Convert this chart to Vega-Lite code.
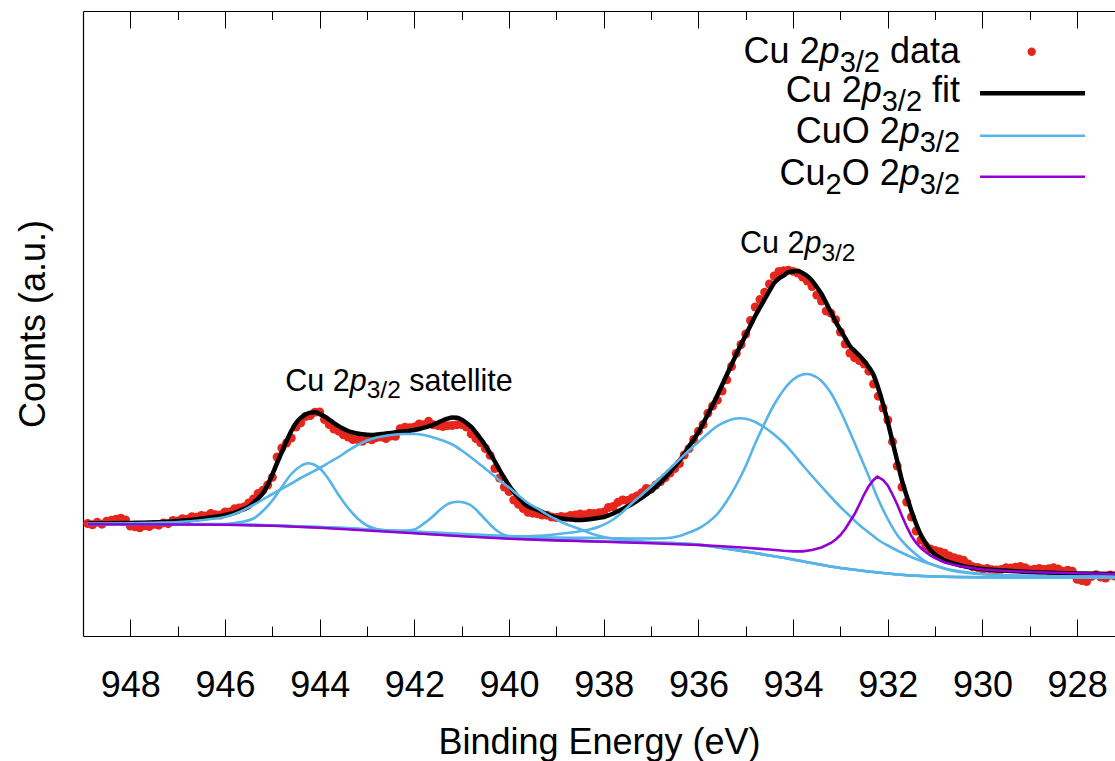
{
"$schema": "https://vega.github.io/schema/vega-lite/v6.json",
"width": 1032, "height": 625,
"autosize": {"type": "none"},
"padding": {"left": 83, "top": 11, "right": 0, "bottom": 125},
"background": "white",
"config": {"view": {"stroke": null}, "font": "Liberation Sans",
  "axis": {"grid": false, "domainColor": "black", "domainWidth": 1.2, "tickColor": "black", "tickWidth": 1, "labelColor": "black", "titleColor": "black", "titleFontWeight": "normal", "labelFont": "Liberation Sans", "titleFont": "Liberation Sans"}},
"resolve": {"axis": {"x": "independent"}},
"encoding": {
  "y": {"field": "c", "type": "quantitative", "scale": {"domain": [0, 625], "nice": false, "zero": false},
        "axis": {"orient": "left", "ticks": true, "tickSize": 0, "labels": false, "domain": true, "title": "Counts (a.u.)", "titleFontSize": 36, "titlePadding": 30}}
},
"datasets": {
"obs": [
{"e":948.9,"c":112.5},{"e":948.8,"c":111.2},{"e":948.7,"c":113.7},{"e":948.6,"c":111.8},{"e":948.5,"c":114.8},
{"e":948.4,"c":115.8},{"e":948.3,"c":116.9},{"e":948.2,"c":117.9},{"e":948.1,"c":116.0},{"e":948.0,"c":110.0},
{"e":947.9,"c":109.1},{"e":947.8,"c":108.2},{"e":947.7,"c":110.3},{"e":947.6,"c":109.4},{"e":947.5,"c":111.6},
{"e":947.4,"c":110.8},{"e":947.3,"c":113.1},{"e":947.2,"c":112.3},{"e":947.1,"c":115.6},{"e":947.0,"c":115.0},
{"e":946.9,"c":117.3},{"e":946.8,"c":116.8},{"e":946.7,"c":119.3},{"e":946.6,"c":118.8},{"e":946.5,"c":120.5},
{"e":946.4,"c":120.1},{"e":946.3,"c":122.6},{"e":946.2,"c":121.2},{"e":946.1,"c":121.0},{"e":946.0,"c":124.0},
{"e":945.9,"c":124.0},{"e":945.8,"c":127.2},{"e":945.7,"c":128.0},{"e":945.6,"c":129.0},{"e":945.5,"c":133.0},
{"e":945.4,"c":137.0},{"e":945.3,"c":142.5},{"e":945.2,"c":145.7},{"e":945.1,"c":151.0},{"e":945.0,"c":158.7},
{"e":944.9,"c":179.0},{"e":944.8,"c":188.0},{"e":944.7,"c":193.0},{"e":944.6,"c":198.0},{"e":944.5,"c":209.0},
{"e":944.4,"c":213.2},{"e":944.3,"c":219.5},{"e":944.2,"c":220.4},{"e":944.1,"c":223.8},{"e":944.0,"c":224.0},
{"e":943.9,"c":216.5},{"e":943.8,"c":211.4},{"e":943.7,"c":207.0},{"e":943.6,"c":204.8},{"e":943.5,"c":201.2},
{"e":943.4,"c":199.0},{"e":943.3,"c":196.5},{"e":943.2,"c":196.5},{"e":943.1,"c":194.7},{"e":943.0,"c":197.2},
{"e":942.9,"c":196.1},{"e":942.8,"c":198.4},{"e":942.7,"c":198.9},{"e":942.6,"c":197.4},{"e":942.5,"c":200.0},
{"e":942.4,"c":199.7},{"e":942.3,"c":207.3},{"e":942.2,"c":208.8},{"e":942.1,"c":208.3},{"e":942.0,"c":209.0},
{"e":941.9,"c":212.0},{"e":941.8,"c":211.3},{"e":941.7,"c":214.7},{"e":941.6,"c":211.2},{"e":941.5,"c":210.5},
{"e":941.4,"c":209.5},{"e":941.3,"c":210.3},{"e":941.2,"c":210.5},{"e":941.1,"c":211.3},{"e":941.0,"c":211.3},
{"e":940.9,"c":209.0},{"e":940.8,"c":202.1},{"e":940.7,"c":197.5},{"e":940.6,"c":193.2},{"e":940.5,"c":187.5},
{"e":940.4,"c":180.6},{"e":940.3,"c":167.5},{"e":940.2,"c":158.0},{"e":940.1,"c":149.0},{"e":940.0,"c":144.5},
{"e":939.9,"c":136.0},{"e":939.8,"c":131.6},{"e":939.7,"c":127.5},{"e":939.6,"c":123.6},{"e":939.5,"c":122.8},
{"e":939.4,"c":122.2},{"e":939.3,"c":121.0},{"e":939.2,"c":120.8},{"e":939.1,"c":119.0},{"e":939.0,"c":118.5},
{"e":938.9,"c":119.6},{"e":938.8,"c":119.0},{"e":938.7,"c":120.5},{"e":938.6,"c":121.1},{"e":938.5,"c":122.0},
{"e":938.4,"c":121.3},{"e":938.3,"c":122.8},{"e":938.2,"c":122.5},{"e":938.1,"c":123.2},{"e":938.0,"c":124.0},
{"e":937.9,"c":128.5},{"e":937.8,"c":129.5},{"e":937.7,"c":133.7},{"e":937.6,"c":136.0},{"e":937.5,"c":135.5},
{"e":937.4,"c":138.0},{"e":937.3,"c":140.0},{"e":937.2,"c":143.2},{"e":937.1,"c":147.5},{"e":937.0,"c":147.0},
{"e":936.9,"c":151.0},{"e":936.8,"c":154.5},{"e":936.7,"c":158.5},{"e":936.6,"c":163.0},{"e":936.5,"c":167.5},
{"e":936.4,"c":172.5},{"e":936.3,"c":181.0},{"e":936.2,"c":187.4},{"e":936.1,"c":196.5},{"e":936.0,"c":204.8},
{"e":935.9,"c":211.5},{"e":935.8,"c":222.8},{"e":935.7,"c":230.0},{"e":935.6,"c":235.8},{"e":935.5,"c":245.0},
{"e":935.4,"c":256.2},{"e":935.3,"c":269.5},{"e":935.2,"c":282.6},{"e":935.1,"c":291.5},{"e":935.0,"c":302.0},
{"e":934.9,"c":315.5},{"e":934.8,"c":329.0},{"e":934.7,"c":336.5},{"e":934.6,"c":343.8},{"e":934.5,"c":352.0},
{"e":934.4,"c":360.0},{"e":934.3,"c":364.5},{"e":934.2,"c":365.4},{"e":934.1,"c":365.8},{"e":934.0,"c":364.6},
{"e":933.9,"c":363.0},{"e":933.8,"c":359.0},{"e":933.7,"c":355.0},{"e":933.6,"c":349.4},{"e":933.5,"c":341.0},
{"e":933.4,"c":335.0},{"e":933.3,"c":325.0},{"e":933.2,"c":322.8},{"e":933.1,"c":316.3},{"e":933.0,"c":304.0},
{"e":932.9,"c":292.0},{"e":932.8,"c":283.0},{"e":932.7,"c":278.2},{"e":932.6,"c":275.5},{"e":932.5,"c":272.0},
{"e":932.4,"c":264.8},{"e":932.3,"c":252.0},{"e":932.2,"c":239.8},{"e":932.1,"c":228.0},{"e":932.0,"c":216.0},
{"e":931.9,"c":194.3},{"e":931.8,"c":170.0},{"e":931.7,"c":149.0},{"e":931.6,"c":134.0},{"e":931.5,"c":119.0},
{"e":931.4,"c":105.0},{"e":931.3,"c":96.0},{"e":931.2,"c":90.0},{"e":931.1,"c":87.0},{"e":931.0,"c":85.5},
{"e":930.9,"c":84.3},{"e":930.8,"c":82.8},{"e":930.7,"c":80.0},{"e":930.6,"c":78.3},{"e":930.5,"c":77.0},
{"e":930.4,"c":75.9},{"e":930.3,"c":72.0},{"e":930.2,"c":69.2},{"e":930.1,"c":68.5},{"e":930.0,"c":67.0},
{"e":929.9,"c":67.6},{"e":929.8,"c":66.2},{"e":929.7,"c":66.0},{"e":929.6,"c":66.6},{"e":929.5,"c":68.3},
{"e":929.4,"c":68.0},{"e":929.3,"c":68.8},{"e":929.2,"c":69.5},{"e":929.1,"c":68.3},{"e":929.0,"c":66.0},
{"e":928.9,"c":66.8},{"e":928.8,"c":67.6},{"e":928.7,"c":66.5},{"e":928.6,"c":67.3},{"e":928.5,"c":68.2},
{"e":928.4,"c":67.0},{"e":928.3,"c":64.8},{"e":928.2,"c":65.8},{"e":928.1,"c":64.7},{"e":928.0,"c":56.6},
{"e":927.9,"c":55.4},{"e":927.8,"c":54.4},{"e":927.7,"c":59.4},{"e":927.6,"c":61.2},{"e":927.5,"c":59.0},
{"e":927.4,"c":58.0},{"e":927.3,"c":61.0},{"e":927.2,"c":60.0}
],
"fit": [
{"e":948.9,"c":112.7},{"e":948.5,"c":112.8},{"e":948.0,"c":113.0},{"e":947.8,"c":113.2},{"e":947.6,"c":113.4},{"e":947.4,"c":113.8},{"e":947.2,"c":114.3},{"e":947.0,"c":115.0},{"e":946.8,"c":115.8},{"e":946.6,"c":116.8},{"e":946.4,"c":118.1},{"e":946.2,"c":119.2},{"e":946.1,"c":120.0},{"e":946.0,"c":121.0},{"e":945.9,"c":122.0},{"e":945.8,"c":123.2},{"e":945.7,"c":125.0},{"e":945.6,"c":127.0},{"e":945.5,"c":129.0},{"e":945.4,"c":133.0},{"e":945.3,"c":137.5},{"e":945.2,"c":142.7},{"e":945.1,"c":151.0},{"e":945.0,"c":161.7},
{"e":944.9,"c":173.0},{"e":944.8,"c":184.0},{"e":944.7,"c":195.0},{"e":944.6,"c":205.0},{"e":944.5,"c":213.0},{"e":944.4,"c":218.2},{"e":944.3,"c":221.5},{"e":944.2,"c":223.4},{"e":944.1,"c":223.8},{"e":944.0,"c":222.1},
{"e":943.9,"c":219.5},{"e":943.8,"c":216.4},{"e":943.7,"c":213.0},{"e":943.6,"c":209.8},{"e":943.5,"c":207.2},{"e":943.4,"c":205.0},{"e":943.3,"c":203.5},{"e":943.2,"c":202.5},{"e":943.1,"c":201.7},{"e":943.0,"c":201.2},
{"e":942.9,"c":201.1},{"e":942.8,"c":201.4},{"e":942.7,"c":201.9},{"e":942.6,"c":202.4},{"e":942.5,"c":203.0},{"e":942.4,"c":203.7},{"e":942.3,"c":204.3},{"e":942.2,"c":204.8},{"e":942.1,"c":205.3},{"e":942.0,"c":206.0},
{"e":941.9,"c":207.0},{"e":941.8,"c":208.3},{"e":941.7,"c":209.7},{"e":941.6,"c":211.2},{"e":941.5,"c":213.5},{"e":941.4,"c":215.5},{"e":941.3,"c":217.3},{"e":941.2,"c":218.5},{"e":941.1,"c":218.3},{"e":941.0,"c":216.3},
{"e":940.9,"c":213.0},{"e":940.8,"c":209.1},{"e":940.7,"c":203.5},{"e":940.6,"c":197.2},{"e":940.5,"c":190.5},{"e":940.4,"c":182.6},{"e":940.3,"c":174.5},{"e":940.2,"c":166.0},{"e":940.1,"c":158.0},{"e":940.0,"c":150.5},
{"e":939.9,"c":144.0},{"e":939.8,"c":138.6},{"e":939.7,"c":133.5},{"e":939.6,"c":129.6},{"e":939.5,"c":127.8},{"e":939.4,"c":126.2},{"e":939.3,"c":124.0},{"e":939.2,"c":121.8},{"e":939.1,"c":120.0},{"e":939.0,"c":118.5},
{"e":938.9,"c":117.6},{"e":938.8,"c":117.0},{"e":938.7,"c":116.5},{"e":938.6,"c":116.1},{"e":938.5,"c":116.0},{"e":938.4,"c":116.3},{"e":938.3,"c":116.8},{"e":938.2,"c":117.5},{"e":938.1,"c":118.2},{"e":938.0,"c":119.0},
{"e":937.9,"c":120.5},{"e":937.8,"c":122.5},{"e":937.7,"c":124.7},{"e":937.6,"c":127.0},{"e":937.5,"c":129.5},{"e":937.4,"c":132.0},{"e":937.3,"c":135.0},{"e":937.2,"c":138.2},{"e":937.1,"c":141.5},{"e":937.0,"c":145.0},
{"e":936.9,"c":149.0},{"e":936.8,"c":153.5},{"e":936.7,"c":158.5},{"e":936.6,"c":164.0},{"e":936.5,"c":169.5},{"e":936.4,"c":175.5},{"e":936.3,"c":182.0},{"e":936.2,"c":189.4},{"e":936.1,"c":196.5},{"e":936.0,"c":203.8},
{"e":935.9,"c":212.5},{"e":935.8,"c":221.8},{"e":935.7,"c":231.0},{"e":935.6,"c":240.8},{"e":935.5,"c":251.0},{"e":935.4,"c":261.2},{"e":935.3,"c":271.5},{"e":935.2,"c":281.6},{"e":935.1,"c":291.5},{"e":935.0,"c":301.0},
{"e":934.9,"c":310.5},{"e":934.8,"c":320.0},{"e":934.7,"c":328.5},{"e":934.6,"c":336.8},{"e":934.5,"c":345.0},{"e":934.4,"c":353.0},{"e":934.3,"c":357.5},{"e":934.2,"c":360.4},{"e":934.1,"c":363.8},{"e":934.0,"c":364.6},
{"e":933.9,"c":365.0},{"e":933.8,"c":363.0},{"e":933.7,"c":360.0},{"e":933.6,"c":355.4},{"e":933.5,"c":349.0},{"e":933.4,"c":342.0},{"e":933.3,"c":333.0},{"e":933.2,"c":323.8},{"e":933.1,"c":314.3},{"e":933.0,"c":306.0},
{"e":932.9,"c":298.0},{"e":932.8,"c":290.0},{"e":932.7,"c":285.2},{"e":932.6,"c":280.5},{"e":932.5,"c":275.0},{"e":932.4,"c":268.8},{"e":932.3,"c":261.0},{"e":932.2,"c":247.8},{"e":932.1,"c":232.0},{"e":932.0,"c":214.0},
{"e":931.9,"c":194.3},{"e":931.8,"c":175.0},{"e":931.7,"c":155.5},{"e":931.6,"c":140.0},{"e":931.5,"c":125.0},{"e":931.4,"c":112.0},{"e":931.3,"c":101.0},{"e":931.2,"c":93.0},{"e":931.1,"c":86.0},{"e":931.0,"c":81.5},
{"e":930.9,"c":78.3},{"e":930.8,"c":75.8},{"e":930.7,"c":74.0},{"e":930.6,"c":72.3},{"e":930.5,"c":71.0},{"e":930.4,"c":69.9},{"e":930.3,"c":69.0},{"e":930.2,"c":68.2},{"e":930.1,"c":67.5},{"e":930.0,"c":67.0},
{"e":929.8,"c":66.2},{"e":929.6,"c":65.6},{"e":929.4,"c":65.0},{"e":929.2,"c":64.5},{"e":929.0,"c":64.0},{"e":928.8,"c":63.6},{"e":928.6,"c":63.3},{"e":928.4,"c":63.0},{"e":928.2,"c":62.8},{"e":928.0,"c":62.6},{"e":927.6,"c":62.2},{"e":927.2,"c":62.0}
],
"cuo": [
{"k":"A","e":948.9,"c":112},{"k":"A","e":947.0,"c":111.8},{"k":"A","e":946.0,"c":112},{"k":"A","e":945.8,"c":113},{"k":"A","e":945.6,"c":114.5},{"k":"A","e":945.4,"c":117.5},{"k":"A","e":945.2,"c":125},{"k":"A","e":945.0,"c":135.5},{"k":"A","e":944.8,"c":149},{"k":"A","e":944.6,"c":162},{"k":"A","e":944.4,"c":170},{"k":"A","e":944.25,"c":172.7},{"k":"A","e":944.1,"c":171},{"k":"A","e":944.0,"c":167.7},{"k":"A","e":943.8,"c":156},{"k":"A","e":943.6,"c":141},{"k":"A","e":943.4,"c":128},{"k":"A","e":943.2,"c":117.5},{"k":"A","e":943.0,"c":110.5},{"k":"A","e":942.8,"c":107},{"k":"A","e":942.6,"c":105.5},{"k":"A","e":942.3,"c":104.3},{"k":"A","e":942.0,"c":103},{"k":"A","e":941.0,"c":100.3},{"k":"A","e":940.0,"c":97.8},{"k":"A","e":939.0,"c":96},{"k":"A","e":938.0,"c":94.5},{"k":"A","e":937.0,"c":93.5},{"k":"A","e":936.0,"c":91.5},{"k":"A","e":935.5,"c":88},{"k":"A","e":935.0,"c":84.5},{"k":"A","e":934.5,"c":80.5},{"k":"A","e":934.0,"c":76.5},{"k":"A","e":933.5,"c":72},{"k":"A","e":933.0,"c":68},{"k":"A","e":932.5,"c":65},{"k":"A","e":932.0,"c":62.5},{"k":"A","e":931.5,"c":60.5},{"k":"A","e":931.0,"c":59.5},{"k":"A","e":930.0,"c":58.8},{"k":"A","e":928.0,"c":58.5},{"k":"A","e":927.2,"c":58.5},
{"k":"B","e":948.9,"c":112.2},{"k":"B","e":948.0,"c":112.6},{"k":"B","e":947.5,"c":113.2},{"k":"B","e":947.0,"c":114},{"k":"B","e":946.5,"c":115.8},{"k":"B","e":946.2,"c":117.5},{"k":"B","e":946.0,"c":119},{"k":"B","e":945.8,"c":122},{"k":"B","e":945.6,"c":126},{"k":"B","e":945.4,"c":131},{"k":"B","e":945.2,"c":136.5},{"k":"B","e":945.0,"c":142},{"k":"B","e":944.8,"c":147.2},{"k":"B","e":944.6,"c":152.5},{"k":"B","e":944.4,"c":158},{"k":"B","e":944.2,"c":163},{"k":"B","e":944.0,"c":168},{"k":"B","e":943.8,"c":173.5},{"k":"B","e":943.6,"c":179},{"k":"B","e":943.4,"c":185.3},{"k":"B","e":943.2,"c":191},{"k":"B","e":943.0,"c":195.5},{"k":"B","e":942.8,"c":198.5},{"k":"B","e":942.6,"c":200.3},{"k":"B","e":942.4,"c":201.5},{"k":"B","e":942.2,"c":202},{"k":"B","e":942.0,"c":202},{"k":"B","e":941.8,"c":201},{"k":"B","e":941.6,"c":198.5},{"k":"B","e":941.4,"c":195.5},{"k":"B","e":941.2,"c":191.5},{"k":"B","e":941.0,"c":185.5},{"k":"B","e":940.8,"c":178.5},{"k":"B","e":940.6,"c":171},{"k":"B","e":940.4,"c":163.5},{"k":"B","e":940.2,"c":155.5},{"k":"B","e":940.0,"c":148.5},{"k":"B","e":939.8,"c":140.5},{"k":"B","e":939.6,"c":133},{"k":"B","e":939.4,"c":127.5},{"k":"B","e":939.2,"c":121.5},{"k":"B","e":939.0,"c":116.5},{"k":"B","e":938.8,"c":112},{"k":"B","e":938.6,"c":108.5},{"k":"B","e":938.4,"c":105},{"k":"B","e":938.2,"c":101.5},{"k":"B","e":938.0,"c":99},{"k":"B","e":937.5,"c":96},{"k":"B","e":937.0,"c":94},{"k":"B","e":936.5,"c":92.5},{"k":"B","e":936.0,"c":91},{"k":"B","e":935.5,"c":88},{"k":"B","e":935.0,"c":84.5},{"k":"B","e":934.5,"c":80.5},{"k":"B","e":934.0,"c":76.5},{"k":"B","e":933.5,"c":72},{"k":"B","e":933.0,"c":68},{"k":"B","e":932.5,"c":65},{"k":"B","e":932.0,"c":62.5},{"k":"B","e":931.5,"c":60.5},{"k":"B","e":931.0,"c":59.5},{"k":"B","e":930.0,"c":58.8},{"k":"B","e":928.0,"c":58.5},{"k":"B","e":927.2,"c":58.5},
{"k":"C","e":948.9,"c":112},{"k":"C","e":946.0,"c":111.8},{"k":"C","e":945.0,"c":110.5},{"k":"C","e":944.0,"c":108.5},{"k":"C","e":943.0,"c":106.5},{"k":"C","e":942.5,"c":105.3},{"k":"C","e":942.2,"c":105.5},{"k":"C","e":942.0,"c":106.5},{"k":"C","e":941.9,"c":109},{"k":"C","e":941.8,"c":112.5},{"k":"C","e":941.7,"c":116},{"k":"C","e":941.6,"c":120},{"k":"C","e":941.5,"c":124.5},{"k":"C","e":941.4,"c":128.5},{"k":"C","e":941.3,"c":131.8},{"k":"C","e":941.2,"c":133.5},{"k":"C","e":941.08,"c":134.3},{"k":"C","e":940.95,"c":133.5},{"k":"C","e":940.8,"c":130.5},{"k":"C","e":940.7,"c":126.5},{"k":"C","e":940.6,"c":121.5},{"k":"C","e":940.5,"c":116.5},{"k":"C","e":940.4,"c":111.5},{"k":"C","e":940.3,"c":107},{"k":"C","e":940.2,"c":103.5},{"k":"C","e":940.1,"c":101},{"k":"C","e":940.0,"c":99.5},{"k":"C","e":939.8,"c":97.5},{"k":"C","e":939.5,"c":96.5},{"k":"C","e":939.0,"c":95.8},{"k":"C","e":938.0,"c":94.5},{"k":"C","e":937.0,"c":93.5},{"k":"C","e":936.0,"c":91.5},{"k":"C","e":935.5,"c":88},{"k":"C","e":935.0,"c":84.5},{"k":"C","e":934.5,"c":80.5},{"k":"C","e":934.0,"c":76.5},{"k":"C","e":933.5,"c":72},{"k":"C","e":933.0,"c":68},{"k":"C","e":932.5,"c":65},{"k":"C","e":932.0,"c":62.5},{"k":"C","e":931.5,"c":60.5},{"k":"C","e":931.0,"c":59.5},{"k":"C","e":930.0,"c":58.8},{"k":"C","e":928.0,"c":58.5},{"k":"C","e":927.2,"c":58.5},
{"k":"D","e":948.9,"c":112},{"k":"D","e":946.0,"c":111.5},{"k":"D","e":944.0,"c":109},{"k":"D","e":942.0,"c":104},{"k":"D","e":941.0,"c":101},{"k":"D","e":940.0,"c":99.5},{"k":"D","e":939.5,"c":100},{"k":"D","e":939.0,"c":101.8},{"k":"D","e":938.6,"c":104},{"k":"D","e":938.3,"c":106.5},{"k":"D","e":938.1,"c":109.3},{"k":"D","e":937.8,"c":116.5},{"k":"D","e":937.6,"c":124},{"k":"D","e":937.4,"c":133},{"k":"D","e":937.2,"c":141},{"k":"D","e":937.0,"c":149.5},{"k":"D","e":936.8,"c":158.5},{"k":"D","e":936.6,"c":167.5},{"k":"D","e":936.4,"c":176.5},{"k":"D","e":936.2,"c":185.5},{"k":"D","e":936.0,"c":194},{"k":"D","e":935.8,"c":202.5},{"k":"D","e":935.6,"c":210},{"k":"D","e":935.4,"c":214.8},{"k":"D","e":935.2,"c":217.5},{"k":"D","e":935.1,"c":217.7},{"k":"D","e":935.0,"c":217.3},{"k":"D","e":934.8,"c":214},{"k":"D","e":934.6,"c":208.5},{"k":"D","e":934.4,"c":201.5},{"k":"D","e":934.2,"c":193},{"k":"D","e":934.0,"c":182.5},{"k":"D","e":933.8,"c":171},{"k":"D","e":933.6,"c":160},{"k":"D","e":933.4,"c":149.5},{"k":"D","e":933.2,"c":139},{"k":"D","e":933.0,"c":129},{"k":"D","e":932.8,"c":120},{"k":"D","e":932.6,"c":111},{"k":"D","e":932.4,"c":103.5},{"k":"D","e":932.2,"c":96},{"k":"D","e":932.0,"c":90.5},{"k":"D","e":931.8,"c":85.5},{"k":"D","e":931.6,"c":81},{"k":"D","e":931.4,"c":77},{"k":"D","e":931.2,"c":73.5},{"k":"D","e":931.0,"c":70.5},{"k":"D","e":930.7,"c":66.5},{"k":"D","e":930.3,"c":63.5},{"k":"D","e":930.0,"c":62},{"k":"D","e":929.6,"c":61},{"k":"D","e":929.0,"c":60.2},{"k":"D","e":928.0,"c":59.5},{"k":"D","e":927.2,"c":59.3},
{"k":"E","e":948.9,"c":112},{"k":"E","e":946.0,"c":111.5},{"k":"E","e":944.0,"c":109},{"k":"E","e":942.0,"c":104.5},{"k":"E","e":940.0,"c":100},{"k":"E","e":939.0,"c":98.5},{"k":"E","e":938.0,"c":98},{"k":"E","e":937.0,"c":97.5},{"k":"E","e":936.7,"c":97.8},{"k":"E","e":936.4,"c":100},{"k":"E","e":936.2,"c":103.5},{"k":"E","e":936.0,"c":107.5},{"k":"E","e":935.8,"c":113.5},{"k":"E","e":935.6,"c":122},{"k":"E","e":935.4,"c":135},{"k":"E","e":935.2,"c":151},{"k":"E","e":935.0,"c":170},{"k":"E","e":934.8,"c":192.5},{"k":"E","e":934.6,"c":213},{"k":"E","e":934.4,"c":231.5},{"k":"E","e":934.2,"c":246},{"k":"E","e":934.0,"c":256.5},{"k":"E","e":933.8,"c":261.5},{"k":"E","e":933.7,"c":262},{"k":"E","e":933.6,"c":261},{"k":"E","e":933.4,"c":255},{"k":"E","e":933.2,"c":243},{"k":"E","e":933.0,"c":225},{"k":"E","e":932.8,"c":204},{"k":"E","e":932.6,"c":182},{"k":"E","e":932.4,"c":159.5},{"k":"E","e":932.2,"c":136.5},{"k":"E","e":932.0,"c":117},{"k":"E","e":931.8,"c":101},{"k":"E","e":931.6,"c":90},{"k":"E","e":931.4,"c":81.5},{"k":"E","e":931.2,"c":74.5},{"k":"E","e":931.0,"c":70.5},{"k":"E","e":930.7,"c":66},{"k":"E","e":930.3,"c":63},{"k":"E","e":930.0,"c":61.7},{"k":"E","e":929.0,"c":60},{"k":"E","e":928.0,"c":59.5},{"k":"E","e":927.2,"c":59.3}
],
"cu2o": [
{"e":948.9,"c":111.7},{"e":947.0,"c":111.5},{"e":946.0,"c":111.2},{"e":945.0,"c":110.2},{"e":944.0,"c":108.3},{"e":943.0,"c":105.5},{"e":942.0,"c":102.7},{"e":941.0,"c":99.8},{"e":940.0,"c":97.3},{"e":939.0,"c":95.6},{"e":938.0,"c":94.2},{"e":937.0,"c":92.8},{"e":936.0,"c":91},{"e":935.5,"c":89.8},{"e":935.0,"c":88.2},{"e":934.5,"c":86.5},{"e":934.2,"c":85.2},{"e":934.0,"c":84.6},{"e":933.8,"c":84.6},{"e":933.6,"c":86},{"e":933.4,"c":88.5},{"e":933.2,"c":93},{"e":933.1,"c":96.5},{"e":933.0,"c":101},{"e":932.9,"c":107},{"e":932.8,"c":114.5},{"e":932.7,"c":122},{"e":932.6,"c":131.5},{"e":932.5,"c":141.5},{"e":932.4,"c":150},{"e":932.3,"c":156},{"e":932.22,"c":159.3},{"e":932.1,"c":156},{"e":932.0,"c":150.5},{"e":931.9,"c":141.5},{"e":931.8,"c":131.5},{"e":931.7,"c":120},{"e":931.6,"c":109.3},{"e":931.5,"c":100},{"e":931.4,"c":93},{"e":931.3,"c":88},{"e":931.2,"c":84},{"e":931.1,"c":80.5},{"e":931.0,"c":78},{"e":930.8,"c":73.5},{"e":930.5,"c":70},{"e":930.0,"c":66.5},{"e":929.5,"c":65},{"e":929.0,"c":64},{"e":928.5,"c":63.2},{"e":928.0,"c":62.7},{"e":927.2,"c":62}
],
"legdot": [{"e":928.96,"c":584.3}],
"leglines": [
{"s":"fit","e":930.052,"c":542.7},{"s":"fit","e":927.834,"c":542.7},
{"s":"cuo","e":930.052,"c":500.3},{"s":"cuo","e":927.834,"c":500.3},
{"s":"cu2o","e":930.052,"c":459.3},{"s":"cu2o","e":927.834,"c":459.3}
],
"legnorm": [
{"e":935.045,"c":572.7,"t":"Cu 2"},{"e":931.955,"c":572.7,"t":"data"},
{"e":934.156,"c":534.3,"t":"Cu 2"},{"e":931.066,"c":534.3,"t":"fit"},
{"e":933.945,"c":492.7,"t":"CuO 2"},
{"e":934.285,"c":451,"t":"Cu"},{"e":932.973,"c":451,"t":"O 2"}
],
"legital": [
{"e":933.44,"c":572.7,"t":"p"},{"e":932.551,"c":534.3,"t":"p"},{"e":931.748,"c":492.7,"t":"p"},{"e":931.748,"c":451,"t":"p"}
],
"legsub": [
{"e":933.017,"c":563.7,"t":"3/2"},{"e":932.128,"c":525.3,"t":"3/2"},{"e":931.325,"c":483.7,"t":"3/2"},{"e":933.313,"c":442,"t":"2"},{"e":931.325,"c":442,"t":"3/2"}
],
"annnorm": [
{"e":944.727,"c":245.3,"t":"Cu 2"},{"e":942.107,"c":245.3,"t":"satellite"},
{"e":935.121,"c":382.7,"t":"Cu 2"}
],
"annital": [
{"e":943.366,"c":245.3,"t":"p"},{"e":933.761,"c":382.7,"t":"p"}
],
"annsub": [
{"e":943.007,"c":237.8,"t":"3/2"},{"e":933.402,"c":375.2,"t":"3/2"}
]
},
"layer": [
{
 "data": {"name": "obs"},
 "mark": {"type": "point", "filled": true, "size": 80, "opacity": 1, "color": "#e6261c"},
 "encoding": {
  "x": {"field": "e", "type": "quantitative", "scale": {"domain": [949, 927.2], "nice": false, "zero": false},
        "axis": {"orient": "bottom", "values": [948,946,944,942,940,938,936,934,932,930,928], "ticks": false, "labels": true, "labelFontSize": 36, "labelPadding": 32, "labelFlush": false, "labelOverlap": false, "domain": true, "title": "Binding Energy (eV)", "titleFontSize": 36, "titlePadding": 22}}
 }
},
{
 "data": {"name": "fit"},
 "mark": {"type": "line", "color": "black", "strokeWidth": 4.5, "interpolate": "monotone"},
 "encoding": {
  "x": {"field": "e", "type": "quantitative", "scale": {"domain": [949, 927.2], "nice": false, "zero": false},
        "axis": {"orient": "bottom", "values": [948,946,944,942,940,938,936,934,932,930,928], "labels": false, "ticks": true, "tickSize": -17, "domain": false, "title": null}}
 }
},
{
 "data": {"name": "cuo"},
 "mark": {"type": "line", "color": "#56b4e9", "strokeWidth": 2.6, "interpolate": "monotone"},
 "encoding": {
  "x": {"field": "e", "type": "quantitative", "scale": {"domain": [949, 927.2], "nice": false, "zero": false},
        "axis": {"orient": "bottom", "values": [947,945,943,941,939,937,935,933,931,929], "labels": false, "ticks": true, "tickSize": -10, "domain": false, "title": null}},
  "detail": {"field": "k"}
 }
},
{
 "data": {"name": "cu2o"},
 "mark": {"type": "line", "color": "#9400d3", "strokeWidth": 2.6},
 "encoding": {
  "x": {"field": "e", "type": "quantitative", "scale": {"domain": [949, 927.2], "nice": false, "zero": false},
        "axis": {"orient": "top", "values": [948,946,944,942,940,938,936,934,932,930,928], "labels": false, "ticks": true, "tickSize": -17, "domain": true, "title": null}}
 }
},
{
 "data": {"name": "legdot"},
 "mark": {"type": "point", "filled": true, "size": 70, "opacity": 1, "color": "#e6261c"},
 "encoding": {
  "x": {"field": "e", "type": "quantitative", "scale": {"domain": [949, 927.2], "nice": false, "zero": false},
        "axis": {"orient": "top", "values": [947,945,943,941,939,937,935,933,931,929], "labels": false, "ticks": true, "tickSize": -8.5, "domain": false, "title": null}}
 }
},
{
 "data": {"name": "leglines"},
 "transform": [{"filter": "datum.s === 'fit'"}],
 "mark": {"type": "line", "color": "black", "strokeWidth": 4.5},
 "encoding": {"x": {"field": "e", "type": "quantitative", "scale": {"domain": [949, 927.2], "nice": false, "zero": false}, "axis": null}}
},
{
 "data": {"name": "leglines"},
 "transform": [{"filter": "datum.s === 'cuo'"}],
 "mark": {"type": "line", "color": "#56b4e9", "strokeWidth": 2.6},
 "encoding": {"x": {"field": "e", "type": "quantitative", "scale": {"domain": [949, 927.2], "nice": false, "zero": false}, "axis": null}}
},
{
 "data": {"name": "leglines"},
 "transform": [{"filter": "datum.s === 'cu2o'"}],
 "mark": {"type": "line", "color": "#9400d3", "strokeWidth": 2.6},
 "encoding": {"x": {"field": "e", "type": "quantitative", "scale": {"domain": [949, 927.2], "nice": false, "zero": false}, "axis": null}}
},
{
 "data": {"name": "legnorm"},
 "mark": {"type": "text", "align": "left", "baseline": "alphabetic", "fontSize": 36, "color": "black", "font": "Liberation Sans"},
 "encoding": {"x": {"field": "e", "type": "quantitative", "scale": {"domain": [949, 927.2], "nice": false, "zero": false}, "axis": null}, "text": {"field": "t"}}
},
{
 "data": {"name": "legital"},
 "mark": {"type": "text", "align": "left", "baseline": "alphabetic", "fontSize": 36, "fontStyle": "italic", "color": "black", "font": "Liberation Sans"},
 "encoding": {"x": {"field": "e", "type": "quantitative", "scale": {"domain": [949, 927.2], "nice": false, "zero": false}, "axis": null}, "text": {"field": "t"}}
},
{
 "data": {"name": "legsub"},
 "mark": {"type": "text", "align": "left", "baseline": "alphabetic", "fontSize": 29, "color": "black", "font": "Liberation Sans"},
 "encoding": {"x": {"field": "e", "type": "quantitative", "scale": {"domain": [949, 927.2], "nice": false, "zero": false}, "axis": null}, "text": {"field": "t"}}
},
{
 "data": {"name": "annnorm"},
 "mark": {"type": "text", "align": "left", "baseline": "alphabetic", "fontSize": 30.5, "color": "black", "font": "Liberation Sans"},
 "encoding": {"x": {"field": "e", "type": "quantitative", "scale": {"domain": [949, 927.2], "nice": false, "zero": false}, "axis": null}, "text": {"field": "t"}}
},
{
 "data": {"name": "annital"},
 "mark": {"type": "text", "align": "left", "baseline": "alphabetic", "fontSize": 30.5, "fontStyle": "italic", "color": "black", "font": "Liberation Sans"},
 "encoding": {"x": {"field": "e", "type": "quantitative", "scale": {"domain": [949, 927.2], "nice": false, "zero": false}, "axis": null}, "text": {"field": "t"}}
},
{
 "data": {"name": "annsub"},
 "mark": {"type": "text", "align": "left", "baseline": "alphabetic", "fontSize": 24.5, "color": "black", "font": "Liberation Sans"},
 "encoding": {"x": {"field": "e", "type": "quantitative", "scale": {"domain": [949, 927.2], "nice": false, "zero": false}, "axis": null}, "text": {"field": "t"}}
}
]
}
